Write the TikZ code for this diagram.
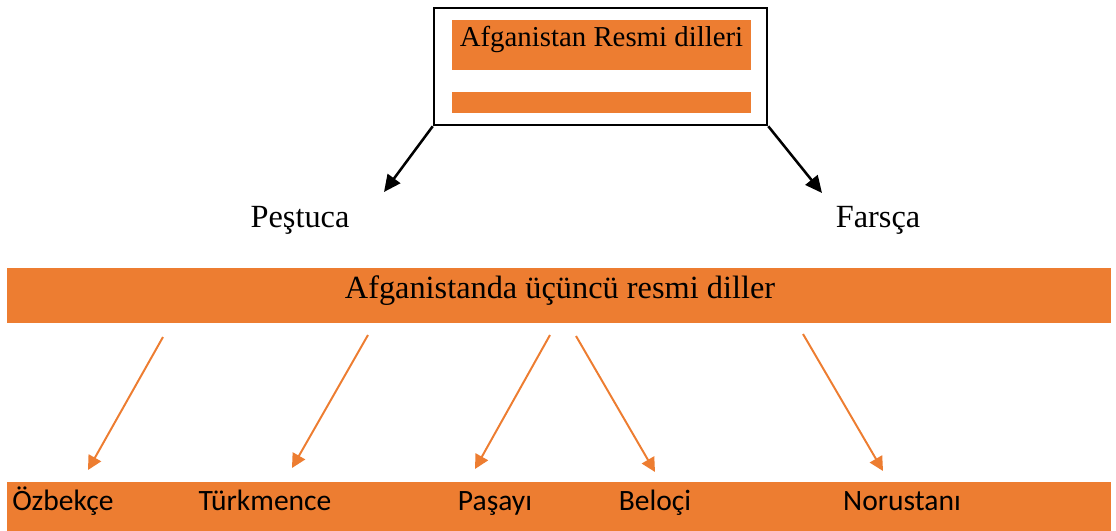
\documentclass[tikz,border=0pt]{standalone}
\usepackage{fontspec}
\setmainfont{Liberation Serif}
\newfontfamily\calibrifont{Carlito}
\usetikzlibrary{arrows.meta,positioning}
\definecolor{barorange}{HTML}{ED7D31}
\newcommand\pxu{0.025cm}

\tikzset{
	orangebar/.style={fill=barorange,inner sep=0pt,outer sep=0pt},
	seriflabel/.style={inner sep=0pt,anchor=base,font=\fontsize{20.5}{24}\selectfont},
	bigserif/.style={seriflabel,font=\fontsize{23}{27}\selectfont},
	sanslabel/.style={inner sep=0pt,anchor=base,font=\calibrifont\fontsize{21}{25}\selectfont},
	blackarrow/.style={line width=1.8pt,-{Triangle[length=12pt,width=11pt]}},
	orangearrow/.style={draw=barorange,line width=1.4pt,-{Triangle[length=10pt,width=10pt]},barorange}
}

\begin{document}
\begin{tikzpicture}[x=\pxu,y=-\pxu]
	\useasboundingbox (0,0) rectangle (1116,531);
	% ust kutu
	\node[draw,line width=1.8pt,inner sep=0pt,minimum width=333*\pxu,minimum height=117*\pxu] (resmi) at (600.5,66.5) {};
	\node[orangebar,minimum width=299*\pxu,minimum height=50*\pxu] (resmibar) at (601.5,45) {};
	\node[seriflabel] (resmitext) at (601.5,47) {Afganistan Resmi dilleri};
	\node[orangebar,minimum width=299*\pxu,minimum height=21*\pxu] (bosbar) at (601.5,102.5) {};
	%
	\node[bigserif] (pestuca) at (300,227) {Peştuca};
	\node[bigserif] (farsca) at (878,227) {Farsça};
	\coordinate (pesucu) at (384,192);
	\coordinate (farucu) at (822,193);
	\draw[blackarrow] (resmi.south west) -- (pesucu);
	\draw[blackarrow] (resmi.south east) -- (farucu);
	% ucuncu diller
	\node[orangebar,minimum width=1104*\pxu,minimum height=55*\pxu] (ucuncu) at (559,295.5) {};
	\node[bigserif] (ucuncutext) at (560,298) {Afganistanda üçüncü resmi diller};
	\node[orangebar,minimum width=1104*\pxu,minimum height=49*\pxu] (dilbar) at (559,506.5) {};
	%
	\node[sanslabel,anchor=base west] (ozbekce) at (12,510) {Özbekçe};
	\node[sanslabel] (turkmence) at (265,510) {Türkmence};
	\node[sanslabel] (pasayi) at (495,510) {Paşayı};
	\node[sanslabel] (beloci) at (655,510) {Beloçi};
	\node[sanslabel] (norustani) at (902,510) {Norustanı};
	%
	\coordinate (o1) at (163,337); \coordinate (u1) at (88,470);
	\coordinate (o2) at (368,335); \coordinate (u2) at (292,468);
	\coordinate (o3) at (550,335); \coordinate (u3) at (475,469);
	\coordinate (o4) at (576,336); \coordinate (u4) at (655,472);
	\coordinate (o5) at (803,334); \coordinate (u5) at (883,471);
	\foreach \i in {1,...,5}
		\draw[orangearrow] (o\i) -- (u\i);
\end{tikzpicture}
\end{document}
